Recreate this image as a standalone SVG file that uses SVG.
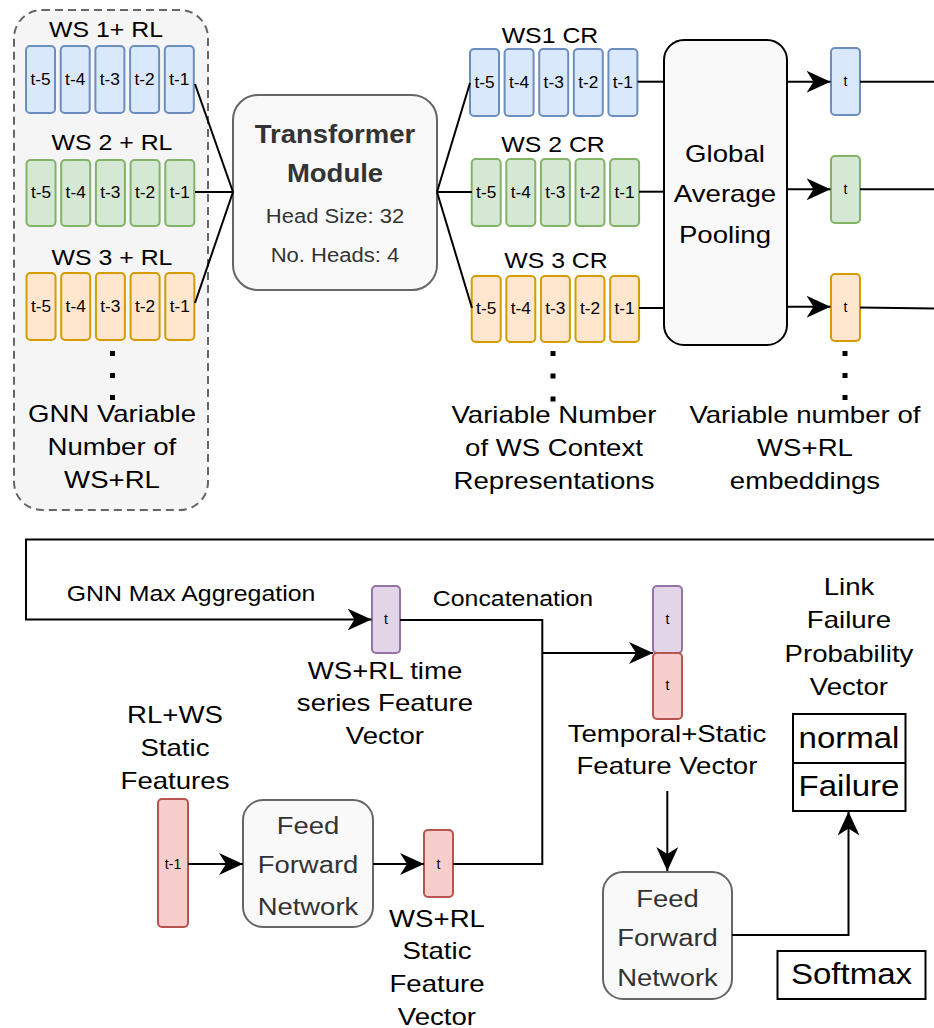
<svg xmlns="http://www.w3.org/2000/svg" width="934" height="1028" viewBox="0 0 934 1028">
  <defs>
    <style>
      text { font-family: "Liberation Sans", Arial, sans-serif; text-anchor: middle; fill: #000; }
      .wide { transform-box: fill-box; transform-origin: center; }
      .lbl { font-size: 23px; transform: scaleX(1.2); }
      .elbl { font-size: 22px; transform: scaleX(1.13); }
      .ttl { font-size: 22px; transform: scaleX(1.13); }
      .cellt { font-size: 16px; transform: scaleX(1.08); }
      .tt { font-size: 14px; }
      .box { font-size: 24.5px; fill: #333; transform: scaleX(1.12); }
      .bold { font-size: 25px; font-weight: bold; fill: #333; transform: scaleX(1.1); }
      .small { font-size: 19.5px; fill: #333; transform: scaleX(1.13); }
      .big { font-size: 30px; transform: scaleX(1.1); }
      .blue { fill: #dae8fc; stroke: #6c8ebf; stroke-width: 2; }
      .green { fill: #d5e8d4; stroke: #82b366; stroke-width: 2; }
      .orange { fill: #ffe6cc; stroke: #d79b00; stroke-width: 2; }
      .purple { fill: #e1d5e7; stroke: #9673a6; stroke-width: 2; }
      .red { fill: #f8cecc; stroke: #b85450; stroke-width: 2; }
      .proc { fill: #f9f9f9; stroke: #666; stroke-width: 2; }
      .edge { fill: none; stroke: #000; stroke-width: 2; }
      .dot { fill: #000; }
    </style>
    <marker id="arrow" viewBox="0 0 24 22" refX="24" refY="11" markerWidth="24" markerHeight="22" markerUnits="userSpaceOnUse" orient="auto">
      <path d="M0,0 L24,11 L0,22 L7,11 Z" fill="#000"/>
    </marker>
  </defs>

  <!-- input group: per-station time series -->
  <g id="input-group">
    <rect x="14" y="10" width="194" height="500" rx="28" fill="#f5f5f5" stroke="#666" stroke-width="2" stroke-dasharray="8 5"/>
    <text class="ttl wide" x="106" y="37">WS 1+ RL</text>
    <text class="ttl wide" x="112" y="150">WS 2 + RL</text>
    <text class="ttl wide" x="112" y="265">WS 3 + RL</text>
    <rect class="dot" x="110" y="351" width="5" height="5"/>
    <rect class="dot" x="110" y="373" width="5" height="5"/>
    <rect class="dot" x="110" y="395" width="5" height="5"/>
    <text class="lbl wide" x="112" y="422">GNN Variable</text>
    <text class="lbl wide" x="112" y="455">Number of</text>
    <text class="lbl wide" x="112" y="488">WS+RL</text>
  </g>

  <g id="ws1-input">
    <rect class="blue" x="26" y="46" width="29" height="67" rx="4"/>
    <rect class="blue" x="60.7" y="46" width="29" height="67" rx="4"/>
    <rect class="blue" x="95.4" y="46" width="29" height="67" rx="4"/>
    <rect class="blue" x="130.1" y="46" width="29" height="67" rx="4"/>
    <rect class="blue" x="164.8" y="46" width="29" height="67" rx="4"/>
    <text class="cellt wide" x="40.5" y="85">t-5</text>
    <text class="cellt wide" x="75.2" y="85">t-4</text>
    <text class="cellt wide" x="109.9" y="85">t-3</text>
    <text class="cellt wide" x="144.6" y="85">t-2</text>
    <text class="cellt wide" x="179.3" y="85">t-1</text>
  </g>

  <g id="ws2-input">
    <rect class="green" x="26.5" y="160" width="29" height="66" rx="4"/>
    <rect class="green" x="61.2" y="160" width="29" height="66" rx="4"/>
    <rect class="green" x="95.9" y="160" width="29" height="66" rx="4"/>
    <rect class="green" x="130.6" y="160" width="29" height="66" rx="4"/>
    <rect class="green" x="165.3" y="160" width="29" height="66" rx="4"/>
    <text class="cellt wide" x="41" y="198">t-5</text>
    <text class="cellt wide" x="75.7" y="198">t-4</text>
    <text class="cellt wide" x="110.4" y="198">t-3</text>
    <text class="cellt wide" x="145.1" y="198">t-2</text>
    <text class="cellt wide" x="179.8" y="198">t-1</text>
  </g>

  <g id="ws3-input">
    <rect class="orange" x="26.5" y="273" width="29" height="67" rx="4"/>
    <rect class="orange" x="61.2" y="273" width="29" height="67" rx="4"/>
    <rect class="orange" x="95.9" y="273" width="29" height="67" rx="4"/>
    <rect class="orange" x="130.6" y="273" width="29" height="67" rx="4"/>
    <rect class="orange" x="165.3" y="273" width="29" height="67" rx="4"/>
    <text class="cellt wide" x="41" y="312">t-5</text>
    <text class="cellt wide" x="75.7" y="312">t-4</text>
    <text class="cellt wide" x="110.4" y="312">t-3</text>
    <text class="cellt wide" x="145.1" y="312">t-2</text>
    <text class="cellt wide" x="179.8" y="312">t-1</text>
  </g>

  <!-- transformer encoder -->
  <g id="transformer">
    <rect class="proc" x="233" y="95" width="204" height="195" rx="25"/>
    <text class="bold wide" x="335" y="143">Transformer</text>
    <text class="bold wide" x="335" y="182">Module</text>
    <text class="small wide" x="335" y="223">Head Size: 32</text>
    <text class="small wide" x="335" y="262">No. Heads: 4</text>
  </g>

  <!-- context representations -->
  <g id="ws1-context">
    <text class="ttl wide" x="550" y="43">WS1 CR</text>
    <rect class="blue" x="470" y="49" width="29" height="67" rx="4"/>
    <rect class="blue" x="504.6" y="49" width="29" height="67" rx="4"/>
    <rect class="blue" x="539.2" y="49" width="29" height="67" rx="4"/>
    <rect class="blue" x="573.8" y="49" width="29" height="67" rx="4"/>
    <rect class="blue" x="608.4" y="49" width="29" height="67" rx="4"/>
    <text class="cellt wide" x="484.5" y="88">t-5</text>
    <text class="cellt wide" x="519.1" y="88">t-4</text>
    <text class="cellt wide" x="553.7" y="88">t-3</text>
    <text class="cellt wide" x="588.3" y="88">t-2</text>
    <text class="cellt wide" x="622.9" y="88">t-1</text>
  </g>

  <g id="ws2-context">
    <text class="ttl wide" x="553" y="152">WS 2 CR</text>
    <rect class="green" x="471.7" y="159" width="29" height="67" rx="4"/>
    <rect class="green" x="506.3" y="159" width="29" height="67" rx="4"/>
    <rect class="green" x="540.9" y="159" width="29" height="67" rx="4"/>
    <rect class="green" x="575.5" y="159" width="29" height="67" rx="4"/>
    <rect class="green" x="610.1" y="159" width="29" height="67" rx="4"/>
    <text class="cellt wide" x="486.2" y="198">t-5</text>
    <text class="cellt wide" x="520.8" y="198">t-4</text>
    <text class="cellt wide" x="555.4" y="198">t-3</text>
    <text class="cellt wide" x="590" y="198">t-2</text>
    <text class="cellt wide" x="624.6" y="198">t-1</text>
  </g>

  <g id="ws3-context">
    <text class="ttl wide" x="556" y="268">WS 3 CR</text>
    <rect class="orange" x="471.7" y="276" width="29" height="66" rx="4"/>
    <rect class="orange" x="506.3" y="276" width="29" height="66" rx="4"/>
    <rect class="orange" x="540.9" y="276" width="29" height="66" rx="4"/>
    <rect class="orange" x="575.5" y="276" width="29" height="66" rx="4"/>
    <rect class="orange" x="610.1" y="276" width="29" height="66" rx="4"/>
    <text class="cellt wide" x="486.2" y="314">t-5</text>
    <text class="cellt wide" x="520.8" y="314">t-4</text>
    <text class="cellt wide" x="555.4" y="314">t-3</text>
    <text class="cellt wide" x="590" y="314">t-2</text>
    <text class="cellt wide" x="624.6" y="314">t-1</text>
  </g>

  <g id="context-caption">
    <rect class="dot" x="550.5" y="351" width="5" height="5"/>
    <rect class="dot" x="550.5" y="373.5" width="5" height="5"/>
    <rect class="dot" x="550.5" y="396.5" width="5" height="5"/>
    <text class="lbl wide" x="554" y="423">Variable Number</text>
    <text class="lbl wide" x="554" y="456">of WS Context</text>
    <text class="lbl wide" x="554" y="489">Representations</text>
  </g>

  <!-- pooling -->
  <g id="global-average-pooling">
    <rect x="664" y="40" width="123" height="305" rx="20" fill="#f9f9f9" stroke="#000" stroke-width="2"/>
    <text class="lbl wide" x="725" y="162">Global</text>
    <text class="lbl wide" x="725" y="202">Average</text>
    <text class="lbl wide" x="725" y="243">Pooling</text>
  </g>

  <!-- pooled embeddings -->
  <g id="ws1-embedding">
    <rect class="blue" x="831" y="48" width="29" height="67" rx="4"/>
    <text class="tt" x="845.5" y="86">t</text>
  </g>
  <g id="ws2-embedding">
    <rect class="green" x="831" y="156" width="29" height="67" rx="4"/>
    <text class="tt" x="845.5" y="194">t</text>
  </g>
  <g id="ws3-embedding">
    <rect class="orange" x="831" y="274" width="29" height="67" rx="4"/>
    <text class="tt" x="845.5" y="312">t</text>
  </g>
  <g id="embedding-caption">
    <rect class="dot" x="842.5" y="351" width="5" height="5"/>
    <rect class="dot" x="842.5" y="373" width="5" height="5"/>
    <rect class="dot" x="842.5" y="395" width="5" height="5"/>
    <text class="lbl wide" x="805" y="423">Variable number of</text>
    <text class="lbl wide" x="805" y="456">WS+RL</text>
    <text class="lbl wide" x="805" y="489">embeddings</text>
  </g>

  <!-- aggregated temporal vector -->
  <g id="temporal-vector">
    <rect class="purple" x="372" y="586" width="28" height="67" rx="4"/>
    <text class="tt" x="386" y="624">t</text>
    <text class="lbl wide" x="385" y="679">WS+RL time</text>
    <text class="lbl wide" x="385" y="711">series Feature</text>
    <text class="lbl wide" x="385" y="744">Vector</text>
  </g>

  <!-- static branch -->
  <g id="static-input">
    <text class="lbl wide" x="175" y="723">RL+WS</text>
    <text class="lbl wide" x="175" y="756">Static</text>
    <text class="lbl wide" x="175" y="789">Features</text>
    <rect class="red" x="158" y="799" width="30" height="128" rx="4"/>
    <text class="tt" x="173" y="869">t-1</text>
  </g>
  <g id="static-ffn">
    <rect class="proc" x="243" y="800" width="130" height="127" rx="20"/>
    <text class="box wide" x="308" y="834">Feed</text>
    <text class="box wide" x="308" y="873">Forward</text>
    <text class="box wide" x="308" y="915">Network</text>
  </g>
  <g id="static-vector">
    <rect class="red" x="424" y="830" width="29" height="67" rx="4"/>
    <text class="tt" x="438.5" y="869">t</text>
    <text class="lbl wide" x="437" y="927">WS+RL</text>
    <text class="lbl wide" x="437" y="959">Static</text>
    <text class="lbl wide" x="437" y="992">Feature</text>
    <text class="lbl wide" x="437" y="1025">Vector</text>
  </g>

  <!-- concatenated vector -->
  <g id="combined-vector">
    <rect class="purple" x="653" y="586" width="29" height="67" rx="4"/>
    <rect class="red" x="653" y="653" width="29" height="66" rx="4"/>
    <text class="tt" x="667.5" y="624">t</text>
    <text class="tt" x="667.5" y="690">t</text>
    <text class="lbl wide" x="667" y="742">Temporal+Static</text>
    <text class="lbl wide" x="667" y="774">Feature Vector</text>
  </g>
  <g id="output-ffn">
    <rect class="proc" x="603" y="872" width="129" height="127" rx="20"/>
    <text class="box wide" x="667.5" y="907">Feed</text>
    <text class="box wide" x="667.5" y="946">Forward</text>
    <text class="box wide" x="667.5" y="986">Network</text>
  </g>

  <!-- output -->
  <g id="probability-vector">
    <text class="lbl wide" x="849" y="595">Link</text>
    <text class="lbl wide" x="849" y="628">Failure</text>
    <text class="lbl wide" x="849" y="662">Probability</text>
    <text class="lbl wide" x="849" y="695">Vector</text>
    <rect x="793" y="714" width="112.5" height="97" fill="#fff" stroke="#000" stroke-width="2"/>
    <line x1="793" y1="763" x2="905.5" y2="763" stroke="#000" stroke-width="2"/>
    <text class="big wide" x="849" y="748">normal</text>
    <text class="big wide" x="849" y="796">Failure</text>
  </g>
  <g id="softmax">
    <rect x="777.5" y="951" width="148" height="48" fill="#fff" stroke="#000" stroke-width="2"/>
    <text class="big wide" x="851.5" y="984">Softmax</text>
  </g>

  <!-- connectors -->
  <g id="connectors">
    <line class="edge" x1="195" y1="84" x2="233" y2="192"/>
    <line class="edge" x1="195" y1="192" x2="233" y2="192"/>
    <line class="edge" x1="195" y1="303" x2="233" y2="192"/>
    <line class="edge" x1="437" y1="192" x2="470" y2="83"/>
    <line class="edge" x1="437" y1="192" x2="472" y2="192"/>
    <line class="edge" x1="437" y1="192" x2="472" y2="308"/>
    <line class="edge" x1="637.5" y1="81.7" x2="664" y2="81.7"/>
    <line class="edge" x1="639" y1="191.7" x2="664" y2="191.7"/>
    <line class="edge" x1="639" y1="308" x2="664" y2="308"/>
    <line class="edge" x1="787" y1="81.7" x2="830.5" y2="81.7" marker-end="url(#arrow)"/>
    <line class="edge" x1="787" y1="189.3" x2="830.5" y2="189.3" marker-end="url(#arrow)"/>
    <line class="edge" x1="787" y1="306.7" x2="830.5" y2="306.7" marker-end="url(#arrow)"/>
    <line class="edge" x1="860" y1="81.7" x2="934" y2="81.7"/>
    <line class="edge" x1="860" y1="189.3" x2="934" y2="189.3"/>
    <line class="edge" x1="860" y1="307.5" x2="934" y2="308.5"/>
    <path class="edge" d="M934,539.5 H26 V619.5 H371.5" marker-end="url(#arrow)"/>
    <text class="elbl wide" x="191" y="601">GNN Max Aggregation</text>
    <path class="edge" d="M400,620 H542.3 V864 H453"/>
    <text class="elbl wide" x="513" y="606">Concatenation</text>
    <line class="edge" x1="542.3" y1="653" x2="653" y2="653" marker-end="url(#arrow)"/>
    <line class="edge" x1="188" y1="864" x2="243" y2="864" marker-end="url(#arrow)"/>
    <line class="edge" x1="373" y1="864" x2="424" y2="864" marker-end="url(#arrow)"/>
    <line class="edge" x1="667.3" y1="791" x2="667.3" y2="871" marker-end="url(#arrow)"/>
    <path class="edge" d="M732,935 H848.5 V811.5" marker-end="url(#arrow)"/>
  </g>
</svg>
